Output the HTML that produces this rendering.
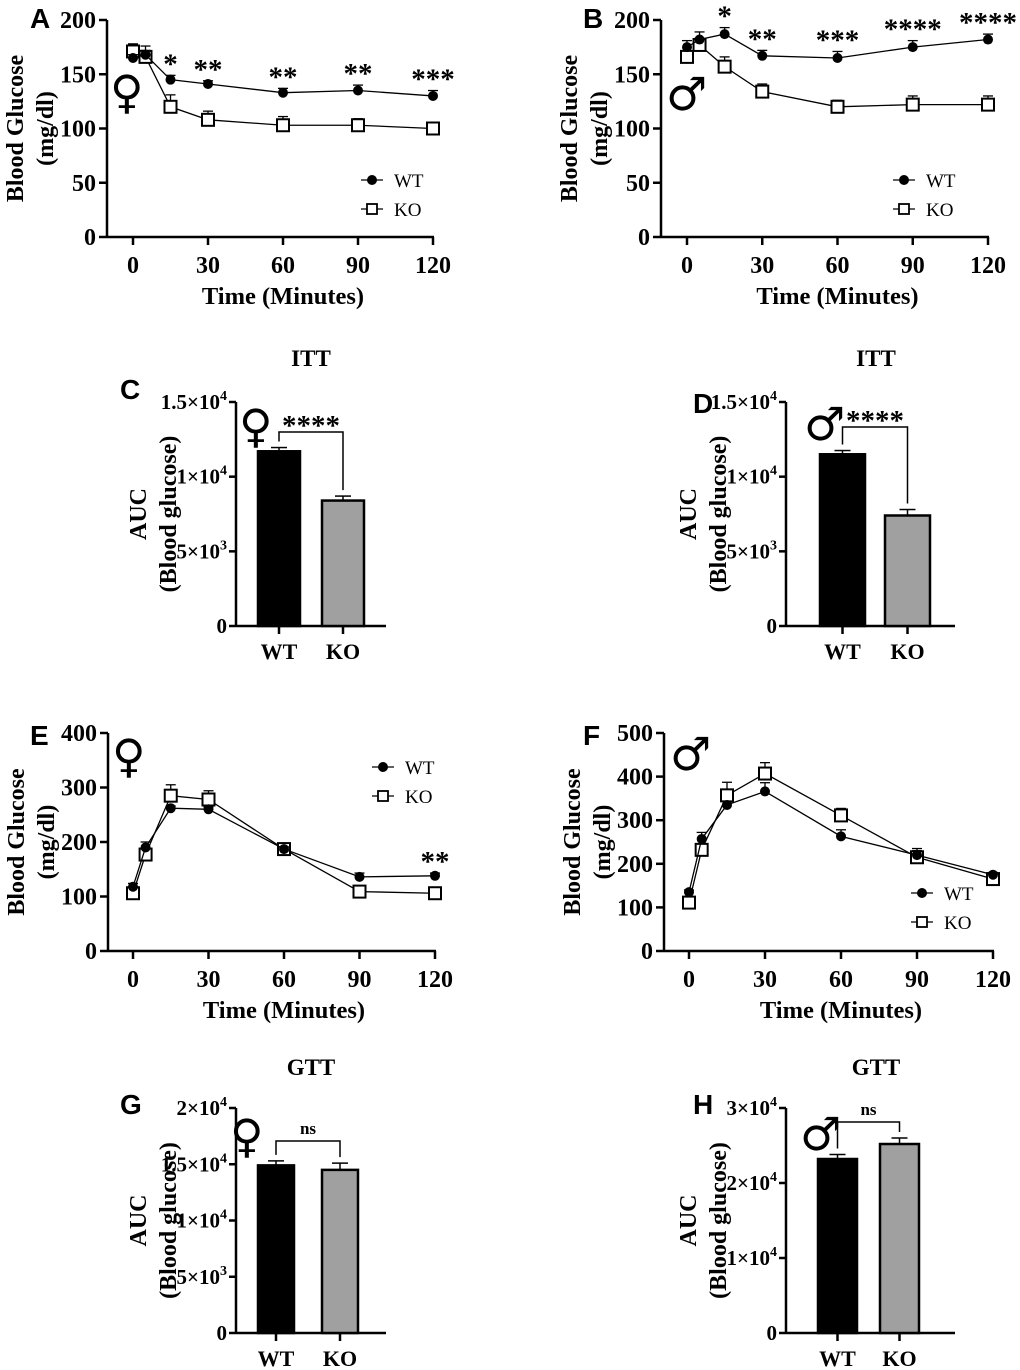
<!DOCTYPE html>
<html><head><meta charset="utf-8"><style>
body{margin:0;background:#fff}
svg{display:block}
text{font-family:"Liberation Serif",serif;font-weight:bold;fill:#000}
.pl{font-family:"Liberation Sans",sans-serif;font-weight:bold;font-size:28px}
.sym{font-family:"DejaVu Sans",sans-serif;font-weight:normal;font-size:46px}
.leg{font-weight:normal;font-size:19px}
</style></head><body>
<svg id="fig" width="1020" height="1370" xmlns="http://www.w3.org/2000/svg"></svg>
<script>
const times=[0,5,15,30,60,90,120];
const xTicks=[0,30,60,90,120];
const aWT=[165,168,145,141,133,135,130], aWTe=[3,4,4,3,4,5,5];
const aKO=[171,166,120,108,103,103,100], aKOe=[7,10,11,8,8,6,3];
const aStars=['','','*','**','**','**','***'];
const bWT=[175,182,187,167,165,175,182], bWTe=[6,7,6,5,6,6,5];
const bKO=[166,177,157,134,120,122,122], bKOe=[4,6,9,7,6,8,8];
const bStars=['','','*','**','***','****','****'];
const eWT=[118,190,262,260,187,136,138], eWTe=[6,10,4,4,4,7,5];
const eKO=[106,177,285,278,187,109,106], eKOe=[5,7,20,16,4,6,3];
const eStars=['','','','','','','**'];
const fWT=[135,257,335,366,263,220,175], fWTe=[5,15,8,20,15,15,5];
const fKO=[111,232,357,407,311,215,165], fKOe=[5,10,30,25,16,15,5];
const barCats=['WT','KO'];
const cVals=[11700,8400], cErr=[250,300];
const dVals=[11500,7400], dErr=[250,400];
const gVals=[14900,14500], gErr=[400,600];
const hVals=[23200,25200], hErr=[600,800];

const S=document.getElementById('fig');
const NS='http://www.w3.org/2000/svg';
function el(tag,attrs,parent,txt){const e=document.createElementNS(NS,tag);for(const k in attrs)e.setAttribute(k,attrs[k]);if(txt!==undefined)e.textContent=txt;(parent||S).appendChild(e);return e;}

function linePanel(o){
  const g=el('g',{});
  
  
  const X=v=>o.x0+(v-0)/120*(o.x1-o.x0);
  const Y=v=>o.yb-(v)/o.ymax*(o.yb-o.yt);
  el('line',{x1:o.ax,y1:o.yt,x2:o.ax,y2:o.yb,stroke:'#000','stroke-width':2.5},g);
  el('line',{x1:o.ax,y1:o.yb,x2:o.x1+1,y2:o.yb,stroke:'#000','stroke-width':2.5},g);
  o.yTicks.forEach(v=>{const y=Y(v);el('line',{x1:o.ax-8,y1:y,x2:o.ax,y2:y,stroke:'#000','stroke-width':2.5},g);
    const t=el('text',{x:o.ax-11,y:y+8,'text-anchor':'end','font-size':24},g,v);
    });
  xTicks.forEach(v=>{const x=X(v);el('line',{x1:x,y1:o.yb,x2:x,y2:o.yb+8,stroke:'#000','stroke-width':2.5},g);
    const t=el('text',{x:x,y:o.yb+36,'text-anchor':'middle','font-size':24},g,v);
    });
  const xt=el('text',{x:(o.x0+o.x1)/2,y:o.yb+67,'text-anchor':'middle','font-size':24.5},g,'Time (Minutes)');
  
  const cy=(o.yt+o.yb)/2;
  const yt=el('text',{transform:`translate(${o.ax-84},${cy}) rotate(-90)`,'text-anchor':'middle','font-size':24},g);
  
  el('tspan',{x:0,dy:0},yt,'Blood Glucose');el('tspan',{x:0,dy:30},yt,'(mg/dl)');
  [[o.ko,o.koe,'ko'],[o.wt,o.wte,'wt']].forEach(([vals,errs,s])=>{
    el('polyline',{points:times.map((t,i)=>X(t)+','+Y(vals[i])).join(' '),fill:'none',stroke:'#000','stroke-width':1.3},g);
    times.forEach((t,i)=>{const x=X(t),y=Y(vals[i]),ye=Y(vals[i]+errs[i]);
      el('line',{x1:x,y1:y,x2:x,y2:ye,stroke:'#000','stroke-width':1.3},g);
      el('line',{x1:x-5,y1:ye,x2:x+5,y2:ye,stroke:'#000','stroke-width':1.3},g);
      let m;
      if(s==='wt')m=el('circle',{cx:x,cy:y,r:5,fill:'#000'},g);
      else m=el('rect',{x:x-6,y:y-6,width:12,height:12,fill:'#fff',stroke:'#000','stroke-width':2},g);
      });
  });
  if(o.stars)times.forEach((t,i)=>{if(o.stars[i]){const st=el('text',{x:X(t),y:Y(o.wt[i]+o.wte[i])-2,'text-anchor':'middle','font-size':29},g,o.stars[i]);
    }});
  const lg=el('g',{},g);
  el('line',{x1:o.lx,y1:o.ly,x2:o.lx+22,y2:o.ly,stroke:'#000','stroke-width':1.3},lg);
  el('circle',{cx:o.lx+11,cy:o.ly,r:5,fill:'#000'},lg);
  el('text',{x:o.lx+33,y:o.ly+7,class:'leg'},lg,'WT');
  el('line',{x1:o.lx,y1:o.ly+29,x2:o.lx+22,y2:o.ly+29,stroke:'#000','stroke-width':1.3},lg);
  el('rect',{x:o.lx+6,y:o.ly+24,width:10,height:10,fill:'#fff',stroke:'#000','stroke-width':1.8},lg);
  el('text',{x:o.lx+33,y:o.ly+36,class:'leg'},lg,'KO');
  const L=el('text',{x:o.lx0,y:o.ly0,class:'pl'},g,o.letter);
  const sy=el('text',{x:o.sx,y:o.sy,class:'sym'},g,o.sym);
}

function barPanel(o){
  const g=el('g',{});
  
  
  const Y=v=>o.yb-v/o.ymax*(o.yb-o.yt);
  el('line',{x1:o.ax,y1:o.yt,x2:o.ax,y2:o.yb,stroke:'#000','stroke-width':2.5},g);
  el('line',{x1:o.ax,y1:o.yb,x2:o.xend,y2:o.yb,stroke:'#000','stroke-width':2.5},g);
  o.ticks.forEach((v,i)=>{const y=Y(v);el('line',{x1:o.ax-7,y1:y,x2:o.ax,y2:y,stroke:'#000','stroke-width':2.5},g);
    const t=el('text',{x:o.ax-9,y:y+7,'text-anchor':'end','font-size':21},g);
    
    const lab=o.tickLabels[i];
    if(lab[1]){el('tspan',{},t,lab[0]+'×10');el('tspan',{dy:-9,'font-size':14},t,lab[1]);}else t.textContent=lab[0];});
  const cy=(o.yt+o.yb)/2;
  const yt=el('text',{transform:`translate(${o.ax-90},${cy}) rotate(-90)`,'text-anchor':'middle','font-size':24},g);
  
  el('tspan',{x:0,dy:0},yt,'AUC');el('tspan',{x:0,dy:30},yt,'(Blood glucose)');
  const tops=[];
  barCats.forEach((c,i)=>{const x=o.bx[i],y=Y(o.vals[i]),cx=x+o.bw/2;
    const b=el('rect',{x:x,y:y,width:o.bw,height:o.yb-y,fill:i?'#a0a0a0':'#000',stroke:'#000','stroke-width':2.5},g);
    
    const ye=Y(o.vals[i]+o.err[i]);
    el('line',{x1:cx,y1:y,x2:cx,y2:ye,stroke:'#000','stroke-width':1.5},g);
    el('line',{x1:cx-8,y1:ye,x2:cx+8,y2:ye,stroke:'#000','stroke-width':1.5},g);
    el('line',{x1:cx,y1:o.yb,x2:cx,y2:o.yb+8,stroke:'#000','stroke-width':2.5},g);
    const t=el('text',{x:cx,y:o.yb+33,'text-anchor':'middle','font-size':22},g,c);
    
    tops.push([cx,ye]);});
  const by=o.brY;
  el('polyline',{points:`${tops[0][0]},${tops[0][1]-6} ${tops[0][0]},${by} ${tops[1][0]},${by} ${tops[1][0]},${tops[1][1]-6}`,fill:'none',stroke:'#000','stroke-width':1.5},g);
  const st=el('text',{x:(tops[0][0]+tops[1][0])/2,y:by-(o.sig==='ns'?7:-3),'text-anchor':'middle','font-size':o.sig==='ns'?17:29,'font-weight':o.sig==='ns'?'normal':'bold'},g,o.sig);
  
  const tt=el('text',{x:o.tx,y:o.ty,'text-anchor':'middle','font-size':23},g,o.title);
  
  const L=el('text',{x:o.lx0,y:o.ly0,class:'pl'},g,o.letter);
  const sy=el('text',{x:o.sx,y:o.sy,class:'sym'},g,o.sym);
}

linePanel({name:'panel-a',letter:'A',lx0:30,ly0:28,sym:'♀',sx:110,sy:108,ax:107,yt:20,yb:237,ymax:200,yTicks:[0,50,100,150,200],x0:133,x1:433,wt:aWT,wte:aWTe,ko:aKO,koe:aKOe,stars:aStars,lx:361,ly:180});
linePanel({name:'panel-b',letter:'B',lx0:583,ly0:28,sym:'♂',sx:666,sy:110,ax:661,yt:20,yb:237,ymax:200,yTicks:[0,50,100,150,200],x0:687,x1:988,wt:bWT,wte:bWTe,ko:bKO,koe:bKOe,stars:bStars,lx:893,ly:180});
linePanel({name:'panel-e',letter:'E',lx0:30,ly0:745,sym:'♀',sx:112,sy:772,ax:108,yt:733,yb:951,ymax:400,yTicks:[0,100,200,300,400],x0:133,x1:435,wt:eWT,wte:eWTe,ko:eKO,koe:eKOe,stars:eStars,lx:372,ly:767});
linePanel({name:'panel-f',letter:'F',lx0:583,ly0:745,sym:'♂',sx:670,sy:770,ax:664,yt:733,yb:951,ymax:500,yTicks:[0,100,200,300,400,500],x0:689,x1:993,wt:fWT,wte:fWTe,ko:fKO,koe:fKOe,stars:null,lx:911,ly:893});

barPanel({name:'panel-c',letter:'C',lx0:120,ly0:399,sym:'♀',sx:239,sy:442,title:'ITT',tx:311,ty:366,ax:236,yt:402,yb:626,ymax:15000,ticks:[0,5000,10000,15000],tickLabels:[['0'],['5','3'],['1','4'],['1.5','4']],xend:386,bx:[258,322],bw:42,vals:cVals,err:cErr,brY:432,sig:'****'});
barPanel({name:'panel-d',letter:'D',lx0:693,ly0:413,sym:'♂',sx:804,sy:440,title:'ITT',tx:876,ty:366,ax:786,yt:402,yb:626,ymax:15000,ticks:[0,5000,10000,15000],tickLabels:[['0'],['5','3'],['1','4'],['1.5','4']],xend:955,bx:[820,885],bw:45,vals:dVals,err:dErr,brY:427,sig:'****'});
barPanel({name:'panel-g',letter:'G',lx0:120,ly0:1114,sym:'♀',sx:230,sy:1152,title:'GTT',tx:311,ty:1075,ax:236,yt:1108,yb:1333,ymax:20000,ticks:[0,5000,10000,15000,20000],tickLabels:[['0'],['5','3'],['1','4'],['1.5','4'],['2','4']],xend:386,bx:[258,322],bw:36,vals:gVals,err:gErr,brY:1141,sig:'ns'});
barPanel({name:'panel-h',letter:'H',lx0:693,ly0:1114,sym:'♂',sx:800,sy:1150,title:'GTT',tx:876,ty:1075,ax:786,yt:1108,yb:1333,ymax:30000,ticks:[0,10000,20000,30000],tickLabels:[['0'],['1','4'],['2','4'],['3','4']],xend:955,bx:[818,880],bw:39,vals:hVals,err:hErr,brY:1122,sig:'ns'});
</script>
</body></html>
